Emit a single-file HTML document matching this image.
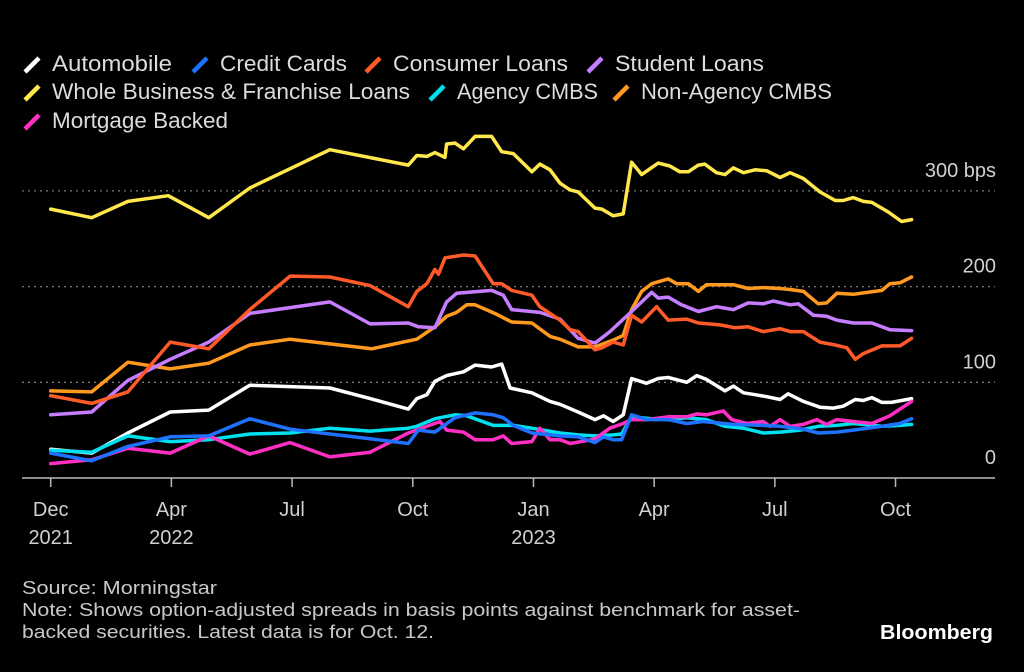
<!DOCTYPE html>
<html><head><meta charset="utf-8">
<style>
html,body{margin:0;padding:0;background:#000;}
body{width:1024px;height:667px;overflow:hidden;font-family:"Liberation Sans",sans-serif;}
svg text{font-family:"Liberation Sans",sans-serif;}
</style></head>
<body>
<svg id="chart" width="1024" height="667" viewBox="0 0 1024 667" xmlns="http://www.w3.org/2000/svg">
<rect width="1024" height="667" fill="#000"/>
<g id="legend"></g>
<g id="grid"></g>
<g id="series"></g>
<g id="xaxis"></g>
<g id="yaxis"></g>
<text x="22" y="594" fill="#c8c8c8" font-size="18.5" textLength="195" lengthAdjust="spacingAndGlyphs">Source: Morningstar</text>
<text x="22" y="616" fill="#c8c8c8" font-size="18.5" textLength="778" lengthAdjust="spacingAndGlyphs">Note: Shows option-adjusted spreads in basis points against benchmark for asset-</text>
<text x="22" y="638" fill="#c8c8c8" font-size="18.5" textLength="412" lengthAdjust="spacingAndGlyphs">backed securities. Latest data is for Oct. 12.</text>
<text x="880" y="639" fill="#fff" font-size="20" font-weight="bold" textLength="113" lengthAdjust="spacingAndGlyphs">Bloomberg</text>
</svg>
<script>
const tickMonths=[0,3,6,9,12,15,18,21];
const tickLabels=["Dec","Apr","Jul","Oct","Jan","Apr","Jul","Oct"];
const tickYears=["2021","2022","","","2023","","",""];
const yTicks=[0,100,200,300];
const yTickLabels=["0","100","200","300 bps"];
const seriesColors=["#ffe74c","#ff9a1f","#c77dff","#ff5a28","#ffffff","#00e1f0","#ff2fc4","#1f72ff"];
const wholeBusiness=[[0,281],[1.02,272],[1.92,289],[2.92,295],[3.93,272],[4.95,303],[6.94,343],[8.89,327],[9.1,337],[9.35,336],[9.55,340],[9.8,335],[9.84,349],[10.05,350],[10.26,344],[10.55,357],[10.96,357],[11.21,341],[11.5,339],[11.96,320],[12.16,328],[12.41,322],[12.66,308],[12.91,301],[13.11,299],[13.53,282],[13.7,281],[13.98,274],[14.23,276],[14.44,330],[14.69,317],[15.1,329],[15.39,326],[15.64,320],[15.85,320],[16.1,327],[16.26,328],[16.55,319],[16.76,317],[16.97,324],[17.22,319],[17.51,322],[17.8,321],[18.13,314],[18.38,319],[18.71,313],[19.12,299],[19.5,290],[19.7,290],[19.95,293],[20.2,289],[20.41,288],[20.82,278],[21.15,268],[21.4,270]];
const nonAgency=[[0,91],[1.02,90],[1.92,121],[2.97,114],[3.93,120],[4.95,139],[5.95,145],[7.98,135],[9.1,145],[9.55,158],[9.84,169],[10.09,173],[10.34,181],[10.55,181],[11.09,171],[11.46,163],[11.96,162],[12.41,148],[12.66,145],[13.11,137],[13.53,137],[13.98,144],[14.23,149],[14.44,176],[14.69,195],[14.94,203],[15.35,208],[15.56,203],[15.85,203],[16.1,195],[16.3,202],[16.97,202],[17.34,198],[17.71,199],[18.13,198],[18.38,197],[18.71,195],[19.08,182],[19.29,183],[19.54,193],[19.95,192],[20.66,196],[20.86,203],[21.11,204],[21.4,210]];
const student=[[0,66],[1.02,69],[1.92,102],[2.97,124],[3.93,142],[4.95,172],[6.94,184],[7.94,161],[8.89,162],[9.14,158],[9.55,157],[9.84,184],[10.09,193],[10.96,196],[11.25,191],[11.46,176],[12.16,173],[12.66,166],[13.11,146],[13.53,141],[13.9,153],[14.44,174],[14.94,194],[15.1,188],[15.35,189],[15.68,181],[16.1,174],[16.55,179],[16.97,176],[17.34,183],[17.71,182],[17.96,185],[18.38,181],[18.58,182],[18.96,170],[19.29,169],[19.54,165],[19.95,162],[20.41,162],[20.86,155],[21.4,154]];
const consumer=[[0,86],[1.02,78],[1.92,90],[2.97,142],[3.93,135],[4.95,176],[5.95,211],[6.94,210],[7.94,201],[8.89,179],[9.1,195],[9.35,203],[9.55,218],[9.64,213],[9.8,230],[10.26,233],[10.55,232],[11.0,203],[11.21,203],[11.46,196],[11.96,191],[12.16,179],[12.66,165],[12.91,155],[13.11,153],[13.53,134],[13.7,136],[13.98,142],[14.23,139],[14.44,170],[14.69,163],[15.06,179],[15.35,165],[15.81,166],[16.1,162],[16.64,160],[17.01,157],[17.34,158],[17.71,153],[18.13,156],[18.38,153],[18.71,153],[19.12,142],[19.5,139],[19.79,136],[20.0,124],[20.2,130],[20.66,138],[21.11,138],[21.4,146]];
const automobile=[[0,30],[1.02,26],[1.92,47],[2.97,69],[3.93,71],[4.95,97],[6.94,94],[7.94,83],[8.89,72],[9.1,83],[9.35,87],[9.55,101],[9.84,107],[10.26,111],[10.55,118],[10.96,116],[11.21,119],[11.42,94],[11.96,89],[12.41,80],[12.66,77],[13.11,69],[13.53,61],[13.74,65],[13.98,59],[14.23,66],[14.44,104],[14.81,99],[15.1,104],[15.35,105],[15.81,100],[16.06,107],[16.3,103],[16.76,91],[16.97,96],[17.22,89],[17.51,87],[17.8,85],[18.13,82],[18.33,88],[18.71,80],[19.12,74],[19.45,73],[19.7,75],[20.0,82],[20.2,81],[20.41,84],[20.66,79],[20.9,79],[21.4,83]];
const agency=[[0,29],[1.02,27],[1.92,44],[2.97,38],[3.93,40],[4.95,46],[5.95,47],[6.94,52],[7.94,49],[8.89,52],[9.1,54],[9.55,62],[10.05,66],[10.34,65],[11.0,55],[11.25,55],[11.5,55],[11.96,52],[12.66,47],[13.11,45],[13.53,44],[13.98,45],[14.19,46],[14.44,64],[14.94,62],[15.35,61],[15.81,63],[16.3,61],[16.76,54],[17.22,52],[17.71,47],[18.13,48],[18.63,50],[19.08,54],[19.54,55],[19.95,57],[20.66,54],[21.11,55],[21.4,56]];
const mortgage=[[0,15],[1.02,19],[1.92,31],[2.97,26],[3.93,44],[4.95,25],[5.95,37],[6.94,22],[7.94,27],[8.89,47],[9.68,59],[9.84,50],[10.26,48],[10.55,40],[11.0,40],[11.25,44],[11.46,36],[11.96,38],[12.16,52],[12.41,40],[12.66,40],[12.91,36],[13.32,39],[13.53,41],[13.9,52],[14.23,57],[14.44,61],[14.81,61],[15.35,64],[15.81,64],[16.06,67],[16.3,66],[16.72,70],[16.93,61],[17.3,57],[17.71,59],[17.88,54],[18.13,61],[18.38,54],[18.71,56],[19.04,61],[19.29,56],[19.54,61],[19.95,59],[20.41,57],[20.86,65],[21.4,80]];
const creditCards=[[0,26],[1.02,18],[1.92,33],[2.97,43],[3.93,44],[4.95,62],[5.95,51],[6.94,46],[7.94,41],[8.89,36],[9.14,50],[9.55,48],[10.05,63],[10.55,68],[11.0,66],[11.25,63],[11.5,55],[11.96,47],[12.66,44],[13.11,43],[13.53,37],[13.74,43],[13.98,40],[14.19,40],[14.44,66],[14.81,61],[15.35,61],[15.81,57],[16.22,59],[16.97,56],[17.71,55],[18.13,54],[18.71,51],[19.08,47],[19.54,48],[19.95,50],[20.66,54],[21.11,57],[21.4,62]];
const seriesData=[wholeBusiness,nonAgency,student,consumer,automobile,agency,mortgage,creditCards];
const seriesKeys=["whole-business","non-agency-cmbs","student-loans","consumer-loans","automobile","agency-cmbs","mortgage-backed","credit-cards"];
const legendNames=["Automobile","Credit Cards","Consumer Loans","Student Loans","Whole Business & Franchise Loans","Agency CMBS","Non-Agency CMBS","Mortgage Backed"];
const legendColors=["#ffffff","#1f72ff","#ff5a28","#c77dff","#ffe74c","#00e1f0","#ff9a1f","#ff2fc4"];

const NS="http://www.w3.org/2000/svg";
const X0=50.7,XM=40.23,Y0=478,YS=0.957;
function xs(m){return X0+m*XM;}
function ys(v){return Y0-v*YS;}
function mk(tag,attrs,parent){const e=document.createElementNS(NS,tag);for(const k in attrs)e.setAttribute(k,attrs[k]);parent.appendChild(e);return e;}

const grid=document.getElementById('grid');
const yaxis=document.getElementById('yaxis');
yTicks.forEach((v,i)=>{
  if(v>0){const l=mk('line',{x1:22,x2:995,y1:ys(v),y2:ys(v),stroke:'#777','stroke-width':1.3,'stroke-dasharray':'2,4'},grid);
  
  }
  const t=mk('text',{x:996,y:ys(v)-14,fill:'#d0d0d0','font-size':20,'text-anchor':'end'},yaxis);
  t.textContent=yTickLabels[i];
  
  
});
const xaxis=document.getElementById('xaxis');
const ax=mk('line',{x1:22,x2:995,y1:Y0,y2:Y0,stroke:'#bbb','stroke-width':1.5},xaxis);


tickMonths.forEach((m,i)=>{
  const tk=mk('line',{x1:xs(m),x2:xs(m),y1:Y0,y2:Y0+9,stroke:'#bbb','stroke-width':1.5},xaxis);
  
  
  const t=mk('text',{x:xs(m),y:516,fill:'#d0d0d0','font-size':20,'text-anchor':'middle'},xaxis);
  t.textContent=tickLabels[i];
  
  
  if(tickYears[i]){const t2=mk('text',{x:xs(m),y:544,fill:'#d0d0d0','font-size':20,'text-anchor':'middle'},xaxis);
  t2.textContent=tickYears[i];
  
  }
});
const sg=document.getElementById('series');
seriesData.forEach((d,i)=>{
  const p=mk('polyline',{points:d.map(q=>xs(q[0]).toFixed(1)+','+ys(q[1]).toFixed(1)).join(' '),fill:'none',stroke:seriesColors[i],'stroke-width':3.5,'stroke-linejoin':'round','stroke-linecap':'round'},sg);
  
  
});
const lg=document.getElementById('legend');
const legendPos=[[22,71],[190,71],[363,71],[585,71],[22,99],[427,99],[611,99],[22,128]];
const legendWidths=[120,127,175,149,358,141,191,176];
legendNames.forEach((n,i)=>{
  const [x,y]=legendPos[i];
  const g=mk('g',{},lg);
  
  
  mk('line',{x1:x+3,y1:y+1,x2:x+17,y2:y-13,stroke:legendColors[i],'stroke-width':4.5},g);
  const t=mk('text',{x:x+30,y:y,fill:'#dcdcdc','font-size':22,textLength:legendWidths[i],lengthAdjust:'spacingAndGlyphs'},g);
  t.textContent=n;
});
</script>
</body></html>
